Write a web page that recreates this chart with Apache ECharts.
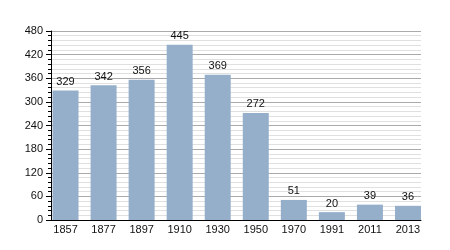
<!DOCTYPE html>
<html><head><meta charset="utf-8">
<script src="https://cdn.jsdelivr.net/npm/echarts@6/dist/echarts.min.js"></script>
<style>html,body{margin:0;padding:0;background:#fff}#c{width:450px;height:250px}</style>
</head><body><div id="c"></div>
<script>
const categories = ['1857','1877','1897','1910','1930','1950','1970','1991','2011','2013'];
const values = [329,342,356,445,369,272,51,20,39,36];
const yTicks = [0,60,120,180,240,300,360,420,480];
const font = 'Liberation Sans, Arial, sans-serif';
const chart = echarts.init(document.getElementById('c'), null, {renderer:'canvas'});
chart.setOption({
  animation:false,
  grid:[
    {left:51,right:29,top:31,bottom:30,containLabel:false},
    {left:46.5,right:23,top:31,bottom:30,containLabel:false}
  ],
  xAxis:[
    {type:'value',gridIndex:0,min:0,max:1,
      axisLine:{show:true,onZero:false,lineStyle:{color:'#000',width:1}},
      axisTick:{show:false},axisLabel:{show:false},splitLine:{show:false}},
    {type:'category',gridIndex:1,data:categories,
      axisLine:{show:false},
      axisTick:{show:false},
      axisLabel:{color:'#111',fontSize:11,fontFamily:font,margin:4}}
  ],
  yAxis:[
    {type:'value',gridIndex:0,min:yTicks[0],max:yTicks[yTicks.length-1],interval:60,
      axisLine:{show:true,lineStyle:{color:'#000',width:1}},
      axisTick:{show:true,length:5,lineStyle:{color:'#000'}},
      minorTick:{show:true,splitNumber:5,length:3,lineStyle:{color:'#000'}},
      splitLine:{show:true,lineStyle:{color:'#aaaaaa',width:1}},
      minorSplitLine:{show:true,lineStyle:{color:'#e0e0e0',width:1}},
      axisLabel:{color:'#111',fontSize:11,fontFamily:font,margin:8}},
    {type:'value',gridIndex:1,min:yTicks[0],max:yTicks[yTicks.length-1],interval:60,
      show:false,splitLine:{show:false}}
  ],
  series:[{type:'bar',xAxisIndex:1,yAxisIndex:1,data:values,barWidth:26,
    itemStyle:{color:'#95afcb'},
    label:{show:true,position:'top',distance:3,color:'#111',fontSize:11,fontFamily:font}}]
});
</script></body></html>
